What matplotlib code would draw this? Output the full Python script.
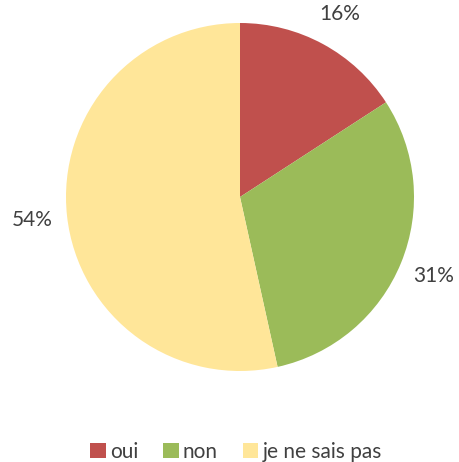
import matplotlib.pyplot as plt

# Data
labels = ['oui', 'non', 'je ne sais pas']
values = [16, 31, 54]
colors = ['#C0504D', '#9BBB59', '#FFE699']
text_color = '#404040'

plt.rcParams['font.family'] = ['Lato', 'DejaVu Sans']

fig = plt.figure(figsize=(4.59, 4.62), dpi=100)

# pie centre ~ (240, 197) px from top-left, radius ~174 px
cx, cy, r = 240, 462 - 197, 174
ax = fig.add_axes([(cx - r) / 459, (cy - r) / 462, 2 * r / 459, 2 * r / 462])

wedges, texts, autotexts = ax.pie(
    values, colors=colors, startangle=90, counterclock=False,
    autopct=lambda p: '', pctdistance=1.2, radius=1,
)
for a, v in zip(autotexts, values):
    a.set_text(f'{v}%')
    a.set_fontsize(15)
    a.set_color(text_color)
    a.set_ha('center')
    a.set_va('center')

ax.set_xlim(-1, 1)
ax.set_ylim(-1, 1)
ax.set_aspect('equal')
ax.axis('off')

fig.legend(wedges, labels, loc='center', bbox_to_anchor=(236 / 459, 10 / 462),
           ncol=3, frameon=False, fontsize=15, labelcolor=text_color,
           handlelength=0.75, handleheight=0.75, handletextpad=0.2,
           columnspacing=1.2)

fig.savefig('out.png', dpi=100)
